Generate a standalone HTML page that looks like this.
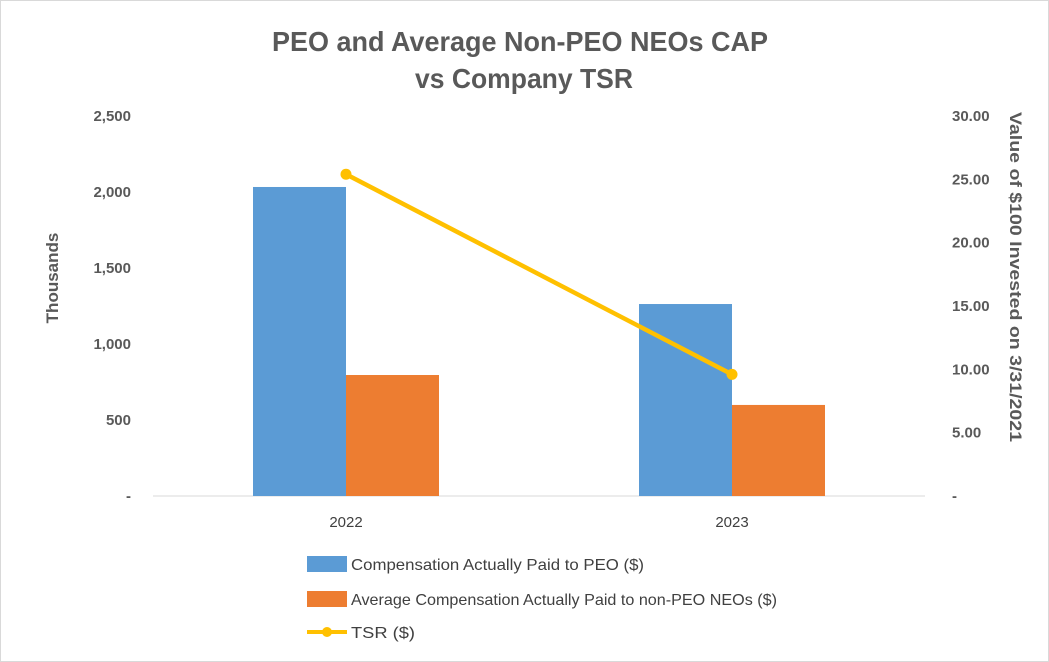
<!DOCTYPE html>
<html><head><meta charset="utf-8"><style>
body{margin:0;background:#fff;}
svg{display:block;font-family:"Liberation Sans",sans-serif;}
</style></head><body>
<svg id="chart" width="1049" height="662">
<rect x="0.5" y="0.5" width="1048" height="661" fill="#fff" stroke="#d9d9d9"/>
<text x="272" y="51" textLength="496" lengthAdjust="spacingAndGlyphs" font-size="28" font-weight="bold" fill="#595959">PEO and Average Non-PEO NEOs CAP</text>
<text x="415" y="88" textLength="218" lengthAdjust="spacingAndGlyphs" font-size="28" font-weight="bold" fill="#595959">vs Company TSR</text>
<text transform="translate(58,278) rotate(-90)" text-anchor="middle" font-size="17" font-weight="bold" fill="#595959">Thousands</text>
<text transform="translate(1010,112) rotate(90)" textLength="330" lengthAdjust="spacingAndGlyphs" font-size="17" font-weight="bold" fill="#595959">Value of $100 Invested on 3/31/2021</text>
<g id="plot"></g>
<g>
<rect x="307" y="556" width="40" height="16" fill="#5b9bd5"/>
<text x="351" y="570" textLength="293" lengthAdjust="spacingAndGlyphs" font-size="16" fill="#404040">Compensation Actually Paid to PEO ($)</text>
<rect x="307" y="591" width="40" height="16" fill="#ed7d31"/>
<text x="351" y="605" textLength="426" lengthAdjust="spacingAndGlyphs" font-size="16" fill="#404040">Average Compensation Actually Paid to non-PEO NEOs ($)</text>
<line x1="307" y1="632" x2="347" y2="632" stroke="#ffc000" stroke-width="4"/>
<circle cx="327" cy="632" r="5" fill="#ffc000"/>
<text x="351" y="638" textLength="64" lengthAdjust="spacingAndGlyphs" font-size="16" fill="#404040">TSR ($)</text>
</g>
</svg>
<script>
const categories = ["2022","2023"];
const peoValues = [2033,1263];
const neoValues = [796,599];
const tsrValues = [25.4,9.6];
const leftTicks = [0,500,1000,1500,2000,2500];
const leftTickLabels = ["-","500","1,000","1,500","2,000","2,500"];
const rightTicks = [0,5,10,15,20,25,30];
const rightTickLabels = ["-","5.00","10.00","15.00","20.00","25.00","30.00"];

const NS="http://www.w3.org/2000/svg";
const g=document.getElementById('plot');
const X0=153,X1=925,Y0=496,Y1=116;
const yL=v=>Y0-(v/2500)*(Y0-Y1);
const yR=v=>Y0-(v/30)*(Y0-Y1);
const catW=(X1-X0)/categories.length;
const cx=i=>X0+catW*(i+0.5);
const barW=93;
function mk(tag,attrs){const e=document.createElementNS(NS,tag);for(const k in attrs)e.setAttribute(k,attrs[k]);g.appendChild(e);return e;}

let ax=mk('line',{x1:X0,x2:X1,y1:Y0,y2:Y0,stroke:'#d9d9d9','stroke-width':1});



leftTicks.forEach((t,i)=>{
  const e=mk('text',{x:131,y:yL(t)+5,'text-anchor':'end','font-size':15,'font-weight':'bold',fill:'#595959'});
  e.textContent=leftTickLabels[i];
  
  
});
rightTicks.forEach((t,i)=>{
  const e=mk('text',{x:952,y:yR(t)+5,'text-anchor':'start','font-size':15,'font-weight':'bold',fill:'#595959'});
  e.textContent=rightTickLabels[i];
  
  
});
categories.forEach((c,i)=>{
  const b1=mk('rect',{x:cx(i)-barW,y:yL(peoValues[i]),width:barW,height:Y0-yL(peoValues[i]),fill:'#5b9bd5'});
  
  
  const b2=mk('rect',{x:cx(i),y:yL(neoValues[i]),width:barW,height:Y0-yL(neoValues[i]),fill:'#ed7d31'});
  
  
  const t=mk('text',{x:cx(i),y:527,'text-anchor':'middle','font-size':15,fill:'#404040'});
  t.textContent=c;
  
  
});
const pts=tsrValues.map((v,i)=>cx(i)+','+yR(v)).join(' ');
const ln=mk('polyline',{points:pts,fill:'none',stroke:'#ffc000','stroke-width':4.5});


tsrValues.forEach((v,i)=>{
  const p=mk('circle',{cx:cx(i),cy:yR(v),r:5.5,fill:'#ffc000'});
  
  
});
</script>
</body></html>
